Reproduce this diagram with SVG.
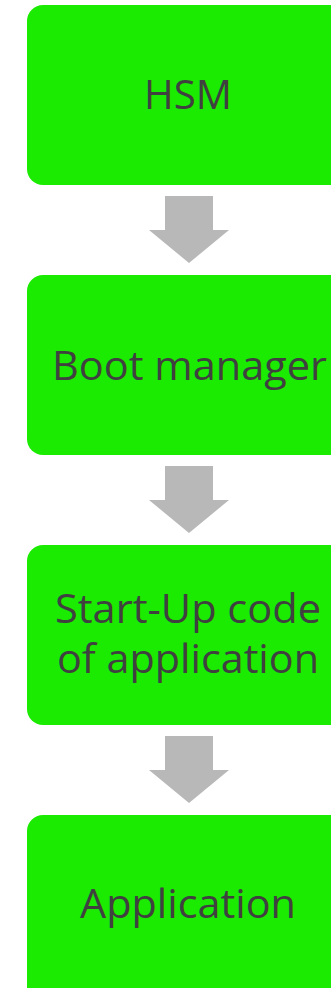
<svg xmlns="http://www.w3.org/2000/svg" width="331" height="988" viewBox="0 0 331 988">
  <style>
    .box { fill: #1aeb00; }
    .label { font-family: "Open Sans", "Noto Sans", "Liberation Sans", sans-serif; font-size: 40px; fill: #404040; text-anchor: middle; }
    .step { fill: #b8b8b8; }
  </style>
  <defs>
    <!-- block arrow pointing down, origin at top-left of stem -->
    <path id="down" class="step" d="M0,0 H48 V34 H64 L24,67 L-16,34 H0 Z"/>
  </defs>

  <g id="hsm">
    <rect class="box" x="27" y="5" width="330" height="180" rx="16"/>
    <text class="label" x="188" y="109" textLength="88" lengthAdjust="spacingAndGlyphs">HSM</text>
  </g>

  <g id="boot-manager">
    <rect class="box" x="27" y="275" width="330" height="180" rx="16"/>
    <text class="label" x="189.5" y="380" textLength="275" lengthAdjust="spacingAndGlyphs">Boot manager</text>
  </g>

  <g id="startup-code">
    <rect class="box" x="27" y="545" width="330" height="180" rx="16"/>
    <text class="label" x="188" y="623" textLength="266" lengthAdjust="spacingAndGlyphs">Start-Up code</text>
    <text class="label" x="188" y="673" textLength="262" lengthAdjust="spacingAndGlyphs">of application</text>
  </g>

  <g id="application">
    <rect class="box" x="27" y="815" width="330" height="200" rx="16"/>
    <text class="label" x="188" y="918" textLength="216" lengthAdjust="spacingAndGlyphs">Application</text>
  </g>

  <g id="connectors">
    <use href="#down" x="165" y="196"/>
    <use href="#down" x="165" y="466"/>
    <use href="#down" x="165" y="736"/>
  </g>
</svg>
